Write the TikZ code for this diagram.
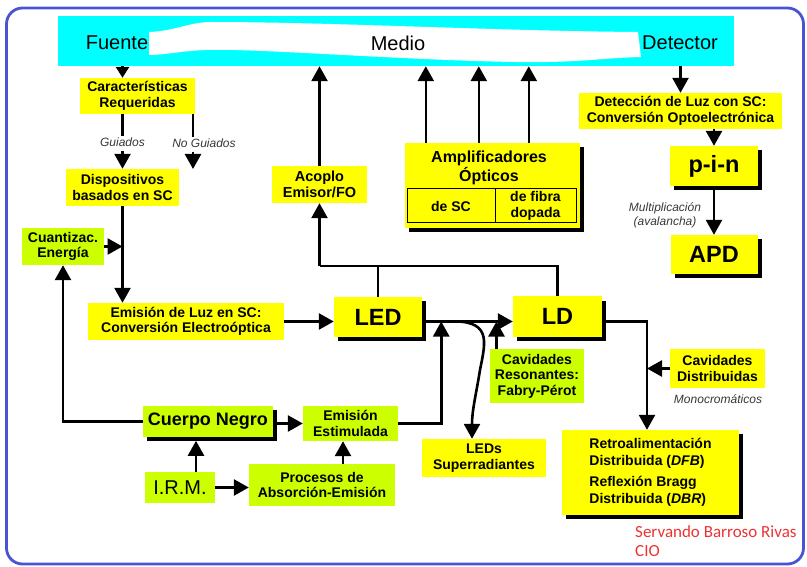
\documentclass[tikz,border=0pt]{standalone}
\usepackage{fontspec}
\setmainfont{Liberation Sans}
\newfontfamily\signfont{Carlito}
\usetikzlibrary{arrows.meta,shadows,calc}

\definecolor{boxyellow}{RGB}{255,255,0}
\definecolor{boxlime}{RGB}{204,255,0}
\definecolor{bannercyan}{RGB}{0,255,255}
\definecolor{frameblue}{RGB}{72,84,210}
\definecolor{notegray}{RGB}{55,55,55}
\definecolor{signred}{RGB}{235,50,50}

\begin{document}
\begin{tikzpicture}[x=1pt,y=-1pt,
  ybox/.style={fill=boxyellow, inner sep=0pt, align=center,
    font=\bfseries\fontsize{14}{15.5}\selectfont},
  gbox/.style={ybox, fill=boxlime},
  shade/.style={drop shadow={shadow xshift=4pt, shadow yshift=-4pt, fill=black, opacity=1}},
  bigtext/.style={font=\bfseries\fontsize{23.5}{26}\selectfont},
  wire/.style={line width=2.6pt},
  arr/.style={wire, -{Triangle[length=15pt,width=16pt]}},
  arrsmall/.style={wire, -{Triangle[length=11pt,width=13pt]}},
  note/.style={font=\itshape\fontsize{12}{14}\selectfont, text=notegray, inner sep=1pt, align=center},
  bannertext/.style={font=\fontsize{20}{24}\selectfont, inner sep=0pt},
  cell/.style={draw, line width=1pt, inner sep=0pt, align=center, minimum height=34pt,
    font=\bfseries\fontsize{14}{15.5}\selectfont},
  signtext/.style={font=\signfont\fontsize{17}{19.5}\selectfont, text=signred, anchor=base west, inner sep=0pt},
]
\useasboundingbox (0,0) rectangle (807,567);

% outer frame
\draw[frameblue, line width=2.8pt, rounded corners=16pt] (6.5,8) rectangle (803.5,564);

% banner: source, medium, detector
\node[fill=bannercyan, minimum width=676pt, minimum height=50pt, inner sep=0pt] (banner) at (396,41) {};
\fill[white] (149,32) .. controls (175,31) and (190,22) .. (211,22)
  .. controls (330,22) and (500,31) .. (638,32) -- (641,57)
  .. controls (600,58) and (580,63) .. (515,62)
  .. controls (400,60) and (250,48) .. (206,50)
  .. controls (180,51) and (165,55) .. (149,55) -- cycle;
\node[bannertext] (fuente) at (117,43) {Fuente};
\node[bannertext] (medio) at (398,43) {Medio};
\node[bannertext] (detector) at (680,43) {Detector};

% left branch
\node[ybox, minimum width=115pt, minimum height=36pt] (carac) at (137.5,96) {Características\\Requeridas};
\node[ybox, minimum width=113pt, minimum height=37pt] (disp) at (122.5,187.5) {Dispositivos\\basados en SC};
\node[gbox, minimum width=82pt, minimum height=37pt] (cuant) at (63,246.5) {Cuantizac.\\Energía};
\node[ybox, minimum width=196pt, minimum height=37pt] (emluz) at (186,321.5) {Emisión de Luz en SC:\\Conversión Electroóptica};

\node[note] (guiados) at (122.5,142) {Guiados};
\node[note] (noguiados) at (204,143) {No Guiados};
\coordinate (ngtip) at (193,169);

% emitters
\node[ybox, bigtext, shade, minimum width=88pt, minimum height=40pt] (led) at (378,317) {LED};
\node[ybox, bigtext, shade, minimum width=89pt, minimum height=40pt] (ld) at (557.5,316.5) {LD};
\node[ybox, minimum width=95pt, minimum height=37pt, font=\bfseries\fontsize{14.5}{16}\selectfont] (acoplo) at (319.5,184.5) {Acoplo\\Emisor/FO};

% optical amplifiers
\node[fill=boxyellow, shade, minimum width=175pt, minimum height=85pt, inner sep=0pt] (ampl) at (492.5,185.5) {};
\node[align=center, inner sep=0pt, font=\bfseries\fontsize{16}{19}\selectfont] (amplt) at (489,168) {Amplificadores\\Ópticos};
\node[cell, minimum width=88pt] (ampsc) at (451,206) {de SC};
\node[cell, minimum width=81pt] (ampfd) at (535.5,206) {de fibra\\dopada};

% detection branch
\node[ybox, minimum width=203pt, minimum height=36pt] (detec) at (680.5,111) {Detección de Luz con SC:\\Conversión Optoelectrónica};
\node[ybox, bigtext, shade, minimum width=88pt, minimum height=40pt] (pin) at (714,166) {p-i-n};
\node[ybox, bigtext, shade, minimum width=87pt, minimum height=39pt] (apd) at (714,254.5) {APD};
\node[note] (multi) at (665,215) {Multiplicación\\(avalancha)};

% laser cavities
\node[ybox, minimum width=124pt, minimum height=38pt] (leds) at (484,458) {LEDs\\Superradiantes};
\node[gbox, minimum width=94pt, minimum height=54pt] (cavres) at (537,376) {Cavidades\\Resonantes:\\Fabry-Pérot};
\node[ybox, minimum width=95pt, minimum height=39pt] (cavdist) at (717.5,368.5) {Cavidades\\Distribuidas};
\node[note] (mono) at (718,399) {Monocromáticos};
\node[ybox, shade, minimum width=177pt, minimum height=85pt, align=left, font=\bfseries\fontsize{14}{17}\selectfont] (retro) at (650.5,472.5)
  {Retroalimentación\\Distribuida (\textit{DFB})\\[4pt]Reflexión Bragg\\Distribuida (\textit{DBR})};

% radiation sources
\node[gbox, shade, minimum width=130pt, minimum height=31pt, font=\bfseries\fontsize{18}{20}\selectfont] (cuerpo) at (208,421.5) {Cuerpo Negro};
\node[gbox, minimum width=95pt, minimum height=35pt] (emest) at (350.5,423.5) {Emisión\\Estimulada};
\node[gbox, minimum width=70pt, minimum height=31pt, font=\fontsize{20}{22}\selectfont] (irm) at (180,487.5) {I.R.M.};
\node[gbox, minimum width=146pt, minimum height=42pt] (proc) at (322,485) {Procesos de\\Absorción-Emisión};

% author
\node[signtext] (autor) at (635,537) {Servando Barroso Rivas};
\node[signtext] (inst) at (635,556.5) {CIO};

% ---- connectors ----
\draw[arrsmall] (banner.south -| disp.north) -- (carac.north -| disp.north);
\draw[wire] (carac.south -| disp.north) -- (guiados.north);
\draw[arr] ([yshift=-3pt]guiados.south) -- (disp.north);
\draw[wire] (carac.south -| ngtip) -- (noguiados.north -| ngtip);
\draw[arr] ([yshift=-3pt]noguiados.south -| ngtip) -- (ngtip);
\draw[arr] (disp.south) -- (disp.south |- emluz.north);
\draw[arr] (cuant.east) -- (cuant.east -| disp.south);
\draw[arr] (cuerpo.west) -| (cuant.south);
\draw[arr] (emluz.east) -- (emluz.east -| led.west);

% LED / LD to coupler
\coordinate (bus) at (319.5,266);
\draw[wire] (ld.north) |- (bus);
\draw[wire] (led.north) -- (led.north |- bus);
\draw[arr] (bus) -- (acoplo.south);
\draw[arr] (acoplo.north) -- (acoplo.north |- banner.south);

% amplifiers to medium
\foreach \dx in {21,74,124}
  \draw[arr] ([xshift=\dx pt]ampl.north west) -- ([xshift=\dx pt]ampl.north west |- banner.south);

% detector chain
\draw[arr] (detec.north |- banner.south) -- (detec.north);
\draw[arr] (detec.south -| pin.north) -- (pin.north);
\draw[arr] (pin.south) -- (apd.north);

% LED to LD line with its branches
\path (led.east |- emluz.east) -- (ld.west |- emluz.east)
  coordinate[pos=0.21] (ja) coordinate[pos=0.26] (jc) coordinate[pos=0.82] (jb);
\draw[arr] (led.east |- emluz.east) -- (ld.west |- emluz.east);
\draw[arr] (emest.east) -| (ja);
\draw[arr] (cavres.north -| jb) -- (jb);
\draw[arr] (jc) .. controls (492,319) and (486,340) .. (480,370)
  .. controls (476,395) and (472,410) .. ([xshift=-12pt]leds.north);

% LD to distributed cavities
\coordinate (rl) at ([xshift=-3.5pt]retro.north);
\draw[arr] (ld.east |- emluz.east) -| (rl);
\draw[arr] (cavdist.west) -- (cavdist.west -| rl);

% bottom sources
\draw[arr] (cuerpo.east |- emest.west) -- (emest.west);
\draw[arr] ([xshift=16pt]irm.north) -- ++(0,-31);
\draw[arr] (irm.east) -- (irm.east -| proc.west);
\coordinate (p1) at ([xshift=21pt]proc.north);
\draw[arr] (p1) -- (p1 |- emest.south);
\end{tikzpicture}
\end{document}
